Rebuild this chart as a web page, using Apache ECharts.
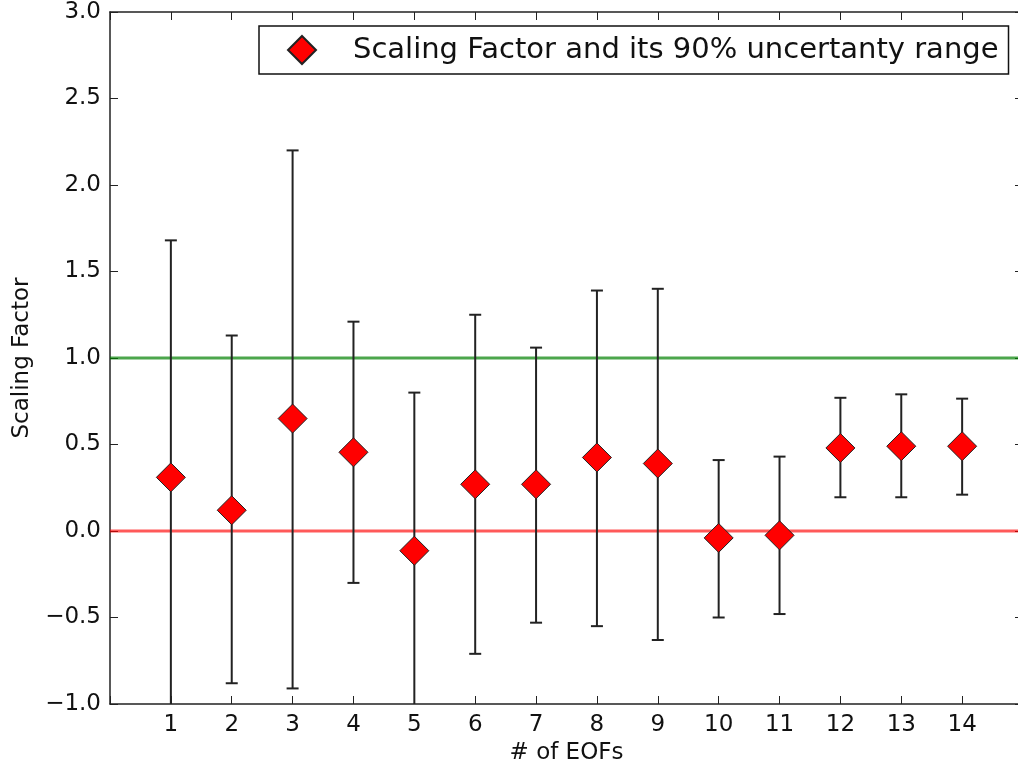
<!DOCTYPE html>
<html>
<head>
<meta charset="utf-8">
<script src="https://cdn.jsdelivr.net/npm/echarts@6/dist/echarts.min.js"></script>
<style>
html,body{margin:0;padding:0;background:#fff;}
#chart{width:1018px;height:765px;}
</style>
</head>
<body>
<div id="chart"></div>
<script>
// ---- data ----
const eofs = [1, 2, 3, 4, 5, 6, 7, 8, 9, 10, 11, 12, 13, 14];
const scaling = [0.31, 0.12, 0.65, 0.455, -0.114, 0.27, 0.27, 0.425, 0.39, -0.04, -0.025, 0.48, 0.49, 0.49];
const lower90 = [-1.06, -0.88, -0.91, -0.30, -1.03, -0.71, -0.53, -0.55, -0.63, -0.50, -0.48, 0.195, 0.195, 0.21];
const upper90 = [1.68, 1.13, 2.20, 1.21, 0.80, 1.25, 1.06, 1.39, 1.40, 0.41, 0.43, 0.77, 0.79, 0.765];
const refOne = 1.0;
const refZero = 0.0;
const xRange = [0, 15];
const yTicks = [-1.0, -0.5, 0.0, 0.5, 1.0, 1.5, 2.0, 2.5, 3.0];
const legendName = 'Scaling Factor and its 90% uncertanty range';

const font = 'DejaVu Sans';
const fmtY = v => (v < 0 ? '\u2212' : '') + Math.abs(v).toFixed(1);

const chart = echarts.init(document.getElementById('chart'), null, {renderer: 'canvas'});

const scatterData = eofs.map((x, i) => [x, scaling[i]]);
const errData = eofs.map((x, i) => [x, lower90[i], upper90[i]]);

const baseAxis = {
  axisLine: {show: true, onZero: false, lineStyle: {color: '#222', width: 1.5}},
  axisTick: {show: true, inside: true, length: 8, lineStyle: {color: '#222', width: 1}},
  splitLine: {show: false}
};

chart.setOption({
  backgroundColor: '#ffffff',
  animation: false,
  grid: {left: 110, top: 12, width: 913, bottom: 61, containLabel: false, outerBoundsMode: 'none'},
  legend: {
    left: 259, top: 26,
    data: [legendName],
    icon: 'diamond',
    itemWidth: 28, itemHeight: 28,
    padding: [9, 10, 9, 28],
    borderColor: '#111', borderWidth: 1.5, borderRadius: 0,
    backgroundColor: '#ffffff',
    textStyle: {fontFamily: font, fontSize: 29, lineHeight: 30, color: '#111', padding: [0, 0, 0, 32]},
    selectedMode: false
  },
  xAxis: [
    Object.assign({}, baseAxis, {
      type: 'value', position: 'bottom', min: xRange[0], max: xRange[1], interval: 1,
      name: '# of EOFs', nameLocation: 'middle', nameGap: 34,
      nameTextStyle: {fontFamily: font, fontSize: 23, color: '#111'},
      axisLabel: {
        fontFamily: font, fontSize: 23, color: '#111', margin: 10,
        formatter: v => (v >= 1 && v <= 14) ? String(v) : ''
      }
    }),
    Object.assign({}, baseAxis, {
      type: 'value', position: 'top', min: xRange[0], max: xRange[1], interval: 1,
      axisLabel: {show: false}
    })
  ],
  yAxis: [
    Object.assign({}, baseAxis, {
      type: 'value', position: 'left', min: yTicks[0], max: yTicks[yTicks.length - 1], interval: 0.5,
      name: 'Scaling Factor', nameLocation: 'middle', nameGap: 76, nameRotate: 90,
      nameTextStyle: {fontFamily: font, fontSize: 23, color: '#111'},
      axisLabel: {fontFamily: font, fontSize: 23, color: '#111', margin: 9, formatter: fmtY}
    }),
    Object.assign({}, baseAxis, {
      type: 'value', position: 'right', min: yTicks[0], max: yTicks[yTicks.length - 1], interval: 0.5,
      axisLabel: {show: false}
    })
  ],
  series: [
    {
      type: 'line', name: 'one', data: [[xRange[0], refOne], [xRange[1], refOne]],
      symbol: 'none', lineStyle: {color: 'rgba(0,128,0,0.7)', width: 3}, z: 2, silent: true
    },
    {
      type: 'line', name: 'zero', data: [[xRange[0], refZero], [xRange[1], refZero]],
      symbol: 'none', lineStyle: {color: 'rgba(255,0,0,0.65)', width: 3}, z: 2, silent: true
    },
    {
      type: 'custom', name: 'err', data: errData, clip: true, z: 3, silent: true,
      encode: {x: 0, y: [1, 2]},
      renderItem: function (params, api) {
        const x = api.value(0);
        const lo = api.coord([x, api.value(1)]);
        const hi = api.coord([x, api.value(2)]);
        const hw = 6;
        const st = {stroke: '#222', lineWidth: 2};
        return {
          type: 'group',
          children: [
            {type: 'line', shape: {x1: hi[0], y1: hi[1], x2: lo[0], y2: lo[1]}, style: st},
            {type: 'line', shape: {x1: hi[0] - hw, y1: hi[1], x2: hi[0] + hw, y2: hi[1]}, style: st},
            {type: 'line', shape: {x1: lo[0] - hw, y1: lo[1], x2: lo[0] + hw, y2: lo[1]}, style: st}
          ]
        };
      }
    },
    {
      type: 'scatter', name: legendName, data: scatterData,
      symbol: 'diamond', symbolSize: 29, z: 4,
      itemStyle: {color: '#ff0000', borderColor: '#222', borderWidth: 1, opacity: 1}
    }
  ]
});
</script>
</body>
</html>
